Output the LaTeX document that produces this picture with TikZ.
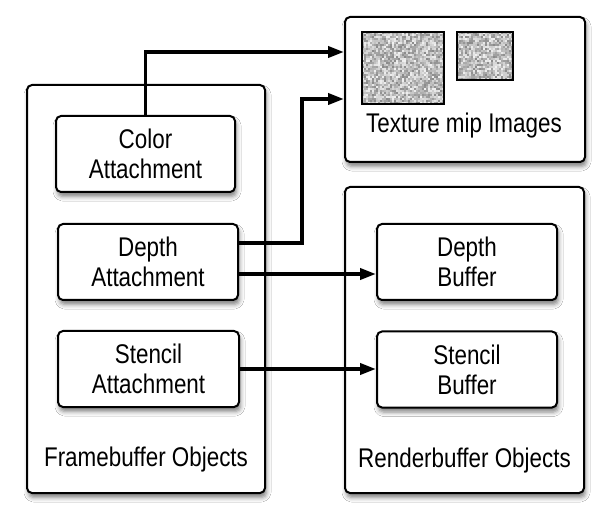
\documentclass[tikz,border=0pt]{standalone}
\usepackage{fontspec}
\setmainfont{Liberation Sans}[FakeStretch=0.83]
\usetikzlibrary{arrows.meta,shadows.blur}
\begin{document}
\begin{tikzpicture}[x=1pt,y=-1pt,
  box/.style={draw,line width=2pt,rounded corners=5pt,fill=white,
    blur shadow={shadow xshift=1.5pt,shadow yshift=-4.5pt,shadow blur radius=4.5pt,shadow opacity=50}},
  outer/.style={box},
  inner/.style={box,minimum width=180pt,minimum height=76pt,align=center,
    font=\fontsize{27}{30}\selectfont,inner sep=0pt},
  lbl/.style={anchor=base,font=\fontsize{27}{30}\selectfont,inner sep=0pt},
  conn/.style={line width=3.6pt,-{Triangle[length=16pt,width=11pt]}},
  img/.style={draw,line width=2.8pt,inner sep=0pt}]
\useasboundingbox[fill=white] (0,0) rectangle (616,521);
% outer boxes
\node[outer,minimum width=238pt,minimum height=408pt] (fbo) at (146,289) {};
\node[outer,minimum width=239pt,minimum height=306pt] (rbo) at (464.5,340) {};
\node[outer,minimum width=240pt,minimum height=145pt] (tex) at (465,89.5) {};
% labels of outer boxes
\node[lbl] (fbolbl) at (146,466) {Framebuffer Objects};
\node[lbl] (rbolbl) at (464.5,467) {Renderbuffer Objects};
\node[lbl] (texlbl) at (464,133) {Texture mip Images};
% noise textures
\pgfmathsetseed{7}
\foreach \i in {0,...,40}{
  \foreach \j in {0,...,35}{
    \pgfmathsetmacro\g{int(random(6,46))}
    \fill[black!\g] (362+2*\i,32+2*\j) rectangle ++(2,2);
  }
}
\foreach \i in {0,...,27}{
  \foreach \j in {0,...,23}{
    \pgfmathsetmacro\g{int(random(6,46))}
    \fill[black!\g] (457+2*\i,32+2*\j) rectangle ++(2,2);
  }
}
\node[img,minimum width=82pt,minimum height=72pt] (img1) at (403,68) {};
\node[img,minimum width=56pt,minimum height=48pt] (img2) at (485,56) {};
% inner boxes
\node[inner,minimum width=179pt] (color) at (145.5,154) {Color\\Attachment};
\node[inner] (datt) at (148,262) {Depth\\Attachment};
\node[inner,minimum width=181pt] (satt) at (148.5,369) {Stencil\\Attachment};
\node[inner] (dbuf) at (467,262) {Depth\\Buffer};
\node[inner] (sbuf) at (467,369.5) {Stencil\\Buffer};
% connector end points
\coordinate (t1) at (tex.west |- 0,52);
\coordinate (t2) at (tex.west |- 0,99);
\coordinate (d1) at (datt.east |- 0,243);
\coordinate (d2) at (datt.east |- 0,274);
\coordinate (b1) at (dbuf.west |- 0,274);
% connectors
\draw[conn] (color.north) |- (t1);
\draw[conn] (d1) -- (302,243) |- (t2);
\draw[conn] (d2) -- (b1);
\draw[conn] (satt.east) -- (sbuf.west |- satt.east);
\end{tikzpicture}
\end{document}
